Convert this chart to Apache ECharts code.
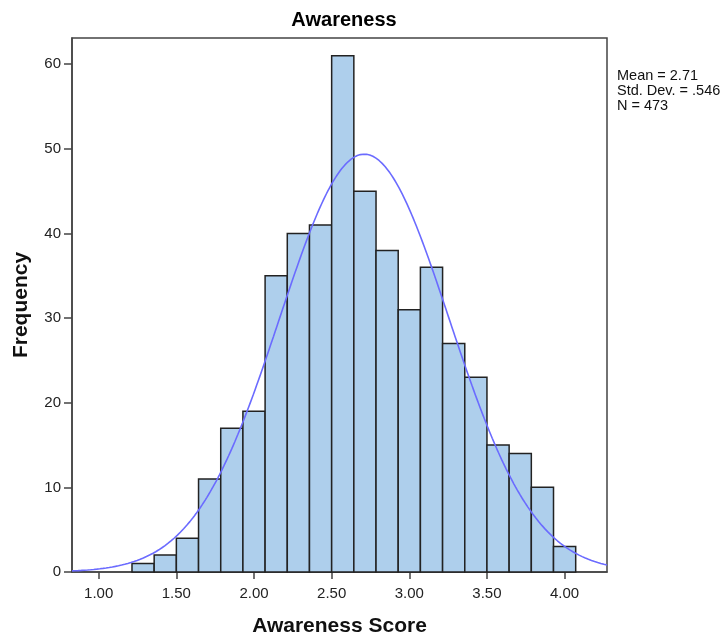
<!DOCTYPE html>
<html>
<head>
<meta charset="utf-8">
<script src="https://cdn.jsdelivr.net/npm/echarts@6/dist/echarts.min.js"></script>
<style>
html,body{margin:0;padding:0;background:#fff;}
#c{width:728px;height:634px;}
</style>
</head>
<body>
<div id="c"></div>
<script>
// Histogram bins (bin width 1/7), centers and counts
const binCenters = [9/7,10/7,11/7,12/7,13/7,14/7,15/7,16/7,17/7,18/7,19/7,20/7,21/7,22/7,23/7,24/7,25/7,26/7,27/7,28/7];
const binWidth = 1/7;
const counts = [1,2,4,11,17,19,35,40,41,61,45,38,31,36,27,23,15,14,10,3];
const xTicks = [1.0,1.5,2.0,2.5,3.0,3.5,4.0];
const yTicks = [0,10,20,30,40,50,60];
const statsLines = ['Mean = 2.71','Std. Dev. = .546','N = 473'];
const mean = 2.71, sd = 0.546, nTotal = 473;
const xMin = 0.828, xMax = 4.273, yMax = 63.1;

const barData = binCenters.map((c,i)=>[c-binWidth/2, c+binWidth/2, counts[i]]);
// fitted normal curve from the displayed Mean / Std. Dev. / N
const curve = [];
for (let k=0;k<=345;k++){
  const x = xMin + (xMax-xMin)*k/345;
  const z = (x-mean)/sd;
  curve.push([x, nTotal*binWidth*Math.exp(-0.5*z*z)/(sd*Math.sqrt(2*Math.PI))]);
}

const chart = echarts.init(document.getElementById('c'), null, {renderer:'canvas'});
const font = 'Liberation Sans, Arial, sans-serif';
chart.setOption({
  animation:false,
  backgroundColor:'#fff',
  title:{text:'Awareness',left:339,top:5,textAlign:'center',
    textStyle:{fontFamily:font,fontSize:20,fontWeight:'bold',color:'#000'}},
  grid:{left:72,top:38,right:121,bottom:62,containLabel:false,outerBoundsMode:'none',
    show:true,borderColor:'#444',borderWidth:1.5,backgroundColor:'#fff'},
  xAxis:{type:'value',min:xMin,max:xMax,
    name:'Awareness Score',nameLocation:'middle',nameGap:44,
    nameTextStyle:{fontFamily:font,fontSize:21,fontWeight:'bold',color:'#111'},
    axisLine:{show:true,lineStyle:{color:'#444',width:1.5}},
    axisTick:{show:true,customValues:xTicks,length:7,lineStyle:{color:'#444',width:1.5}},
    axisLabel:{customValues:xTicks,formatter:v=>v.toFixed(2),fontFamily:font,fontSize:15,color:'#222',margin:14},
    splitLine:{show:false}},
  yAxis:{type:'value',min:0,max:yMax,
    name:'Frequency',nameLocation:'middle',nameGap:40,nameRotate:90,
    nameTextStyle:{fontFamily:font,fontSize:21,fontWeight:'bold',color:'#111'},
    axisLine:{show:true,lineStyle:{color:'#444',width:1.5}},
    axisTick:{show:true,customValues:yTicks,length:8,lineStyle:{color:'#444',width:1.5}},
    axisLabel:{customValues:yTicks,formatter:v=>String(v),fontFamily:font,fontSize:15,color:'#222',margin:11},
    splitLine:{show:false}},
  graphic:[{type:'text',left:617,top:68,style:{text:statsLines.join('\n'),fontFamily:font,fontSize:14.5,lineHeight:15,fill:'#111'}}],
  series:[
    {type:'custom',data:barData,
     encode:{x:[0,1],y:2},
     renderItem:function(params,api){
       const p0 = api.coord([api.value(0),api.value(2)]);
       const p1 = api.coord([api.value(1),0]);
       return {type:'rect',shape:{x:p0[0],y:p0[1],width:p1[0]-p0[0],height:p1[1]-p0[1]},
         style:{fill:'#aecfec',stroke:'#222',lineWidth:1.5}};
     },z:2},
    {type:'line',data:curve,showSymbol:false,smooth:false,
     lineStyle:{color:'#6b6bff',width:1.6},z:3}
  ]
});
</script>
</body>
</html>
